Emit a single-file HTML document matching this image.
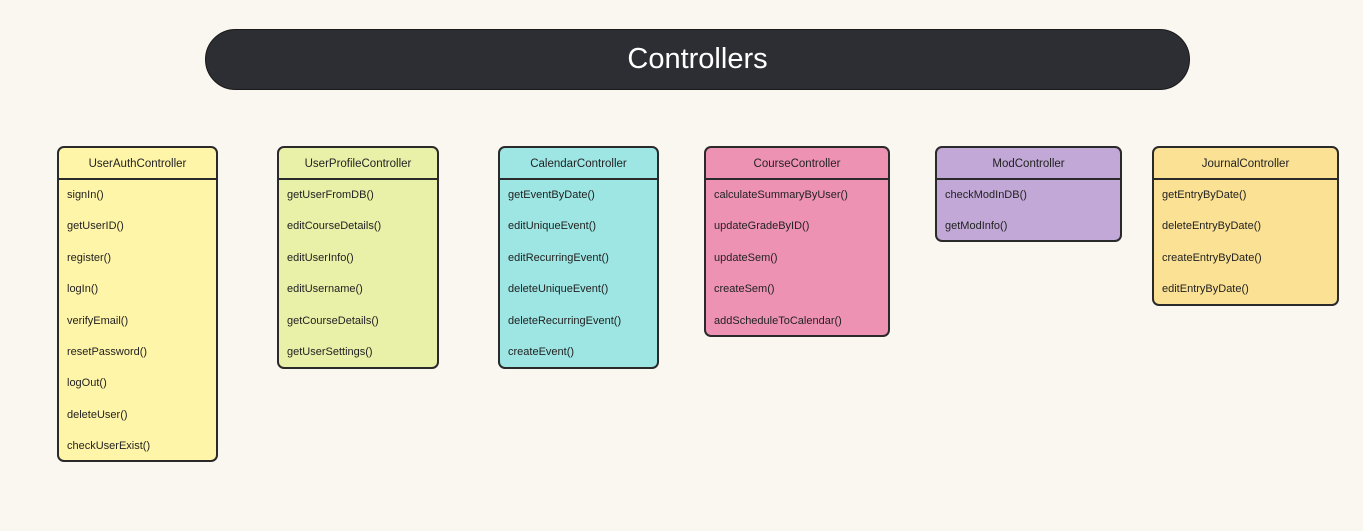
<!DOCTYPE html>
<html><head><style>
body{margin:0;width:1363px;height:531px;background:#faf6f0;position:relative;font-family:"Liberation Sans","DejaVu Sans",sans-serif;overflow:hidden}
.banner{position:absolute;left:205px;top:29px;width:983px;height:59px;background:#2d2e33;border:1px solid #1a1a1a;border-radius:31px;color:#fff;font-size:29px;text-align:center;line-height:59px}
.box{position:absolute;top:146px;border:2px solid #2a2a2a;border-radius:7px;box-sizing:border-box;font-size:11px;color:#222}
.h{height:32px;line-height:32px;text-align:center;border-bottom:2px solid #2a2a2a;box-sizing:border-box;font-size:11.5px}
.r{height:31.4px;line-height:31.4px;padding-left:8px}
</style></head><body>
<div class="banner">Controllers</div>
<div class="box" style="left:57px;width:161px;height:316px;background:#fff5a8"><div class="h">UserAuthController</div>
<div class="r">signIn()</div><div class="r">getUserID()</div><div class="r">register()</div><div class="r">logIn()</div><div class="r">verifyEmail()</div><div class="r">resetPassword()</div><div class="r">logOut()</div><div class="r">deleteUser()</div><div class="r">checkUserExist()</div></div>
<div class="box" style="left:277px;width:162px;height:223px;background:#e9f0a8"><div class="h">UserProfileController</div>
<div class="r">getUserFromDB()</div><div class="r">editCourseDetails()</div><div class="r">editUserInfo()</div><div class="r">editUsername()</div><div class="r">getCourseDetails()</div><div class="r">getUserSettings()</div></div>
<div class="box" style="left:498px;width:161px;height:223px;background:#9de6e3"><div class="h">CalendarController</div>
<div class="r">getEventByDate()</div><div class="r">editUniqueEvent()</div><div class="r">editRecurringEvent()</div><div class="r">deleteUniqueEvent()</div><div class="r">deleteRecurringEvent()</div><div class="r">createEvent()</div></div>
<div class="box" style="left:704px;width:186px;height:191px;background:#ee92b4"><div class="h">CourseController</div>
<div class="r">calculateSummaryByUser()</div><div class="r">updateGradeByID()</div><div class="r">updateSem()</div><div class="r">createSem()</div><div class="r">addScheduleToCalendar()</div></div>
<div class="box" style="left:935px;width:187px;height:96px;background:#c1a8d6"><div class="h">ModController</div>
<div class="r">checkModInDB()</div><div class="r">getModInfo()</div></div>
<div class="box" style="left:1152px;width:187px;height:160px;background:#fbe194"><div class="h">JournalController</div>
<div class="r">getEntryByDate()</div><div class="r">deleteEntryByDate()</div><div class="r">createEntryByDate()</div><div class="r">editEntryByDate()</div></div>
</body></html>
